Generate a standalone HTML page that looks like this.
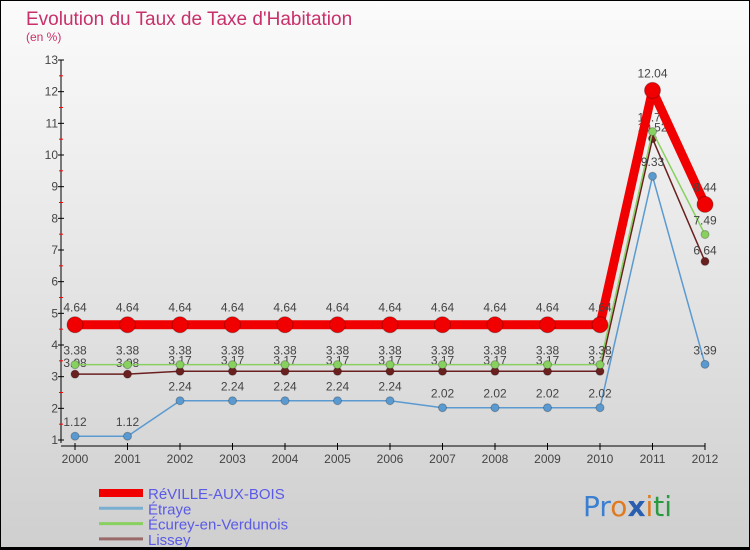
<!DOCTYPE html>
<html><head><meta charset="utf-8"><style>
body{margin:0;}
#wrap{position:relative;width:750px;height:550px;box-sizing:border-box;border:1px solid #000;border-bottom:3px solid #000;background:linear-gradient(#fbfbfb,#cfcfcf);font-family:"Liberation Sans",sans-serif;overflow:hidden;}
</style></head><body>
<div id="wrap">
<svg id="chart" width="750" height="550" style="position:absolute;left:-1px;top:-1px">
<text x="26" y="25" font-size="19" fill="#c8306a">Evolution du Taux de Taxe d'Habitation</text>
<text x="26" y="41" font-size="12" fill="#c8306a">(en %)</text>
<g id="axes"></g><g id="series"></g><g id="legend"></g>
<text x="583" y="516" font-size="28" font-family="'DejaVu Sans',sans-serif"><tspan fill="#3a7fd0">Pr</tspan><tspan fill="#e07a20">o</tspan><tspan fill="#2a5fb0" font-weight="bold">x</tspan><tspan fill="#e07a20">i</tspan><tspan fill="#2a9a40">ti</tspan></text>
</svg>
</div>
<script>
const years=["2000","2001","2002","2003","2004","2005","2006","2007","2008","2009","2010","2011","2012"];
const yTicks=[1,2,3,4,5,6,7,8,9,10,11,12,13];
const reville=[4.64,4.64,4.64,4.64,4.64,4.64,4.64,4.64,4.64,4.64,4.64,12.04,8.44];
const etraye=[1.12,1.12,2.24,2.24,2.24,2.24,2.24,2.02,2.02,2.02,2.02,9.33,3.39];
const ecurey=[3.38,3.38,3.38,3.38,3.38,3.38,3.38,3.38,3.38,3.38,3.38,10.74,7.49];
const lissey=[3.08,3.08,3.17,3.17,3.17,3.17,3.17,3.17,3.17,3.17,3.17,10.52,6.64];
const seriesNames=["RéVILLE-AUX-BOIS","Étraye","Écurey-en-Verdunois","Lissey"];
const NS="http://www.w3.org/2000/svg";
const X=i=>75+i*52.5;
const Y=v=>440-(v-1)*(380/12);
function mk(parent,tag,attrs){const e=document.createElementNS(NS,tag);for(const k in attrs)e.setAttribute(k,attrs[k]);parent.appendChild(e);return e;}
const axes=document.getElementById('axes');
let a=mk(axes,'line',{x1:61,y1:Y(13),x2:61,y2:Y(1)+3,stroke:'#000'});


a=mk(axes,'line',{x1:61,y1:446,x2:X(12),y2:446,stroke:'#000'});


yTicks.forEach(v=>{
 mk(axes,'line',{x1:58,x2:64,y1:Y(v),y2:Y(v),stroke:'#000'});
 if(v<13)mk(axes,'line',{x1:59,x2:63,y1:Y(v+0.5),y2:Y(v+0.5),stroke:'#f00'});
 const t=mk(axes,'text',{x:58,y:Y(v)+4,'font-size':12,'text-anchor':'end',fill:'#444'});
 t.textContent=v;
 
 
});
years.forEach((yr,i)=>{
 mk(axes,'line',{x1:X(i),x2:X(i),y1:443,y2:450,stroke:'#000'});
 const t=mk(axes,'text',{x:X(i),y:463,'font-size':12,'text-anchor':'middle',fill:'#444'});
 t.textContent=yr;
 
 
});
const sg=document.getElementById('series');
const defs=[
 {d:lissey,c:'#6b2020',w:1.5,r:4,name:'lissey',dy:-7},
 {d:ecurey,c:'#88d060',w:1.5,r:4,name:'ecurey',dy:-10},
 {d:etraye,c:'#5a9ad0',w:1.5,r:4,name:'etraye',dy:-10},
 {d:reville,c:'#f00000',w:9,r:8,name:'reville',dy:-13}
];
defs.forEach(s=>{
 const g=mk(sg,'g',{});
 
 
 const p=mk(g,'polyline',{points:s.d.map((v,i)=>X(i)+','+Y(v)).join(' '),fill:'none',stroke:s.c,'stroke-width':s.w,'stroke-linejoin':'round'});
 
 
 s.d.forEach((v,i)=>{
  const c=mk(g,'circle',{cx:X(i),cy:Y(v),r:s.r,fill:s.c,stroke:'rgba(0,0,0,0.25)'});
  
  
  const t=mk(g,'text',{x:X(i),y:Y(v)+s.dy,'font-size':12,'text-anchor':'middle',fill:'#444'});
  t.textContent=v.toFixed(2);
  
  
 });
});
const lg=document.getElementById('legend');
const lc=['#f00000','#7aaed0','#88d060','#9a6a6a'];const lw=[8,3,3,3];
seriesNames.forEach((n,i)=>{
 const y=493+i*15.3;
 const g=mk(lg,'g',{});
 
 
 mk(g,'line',{x1:99,x2:143,y1:y,y2:y,stroke:lc[i],'stroke-width':lw[i]});
 const t=mk(g,'text',{x:148,y:y+6,'font-size':15,fill:'#5a5ae8'});
 t.textContent=n;
});
</script>
</body></html>
